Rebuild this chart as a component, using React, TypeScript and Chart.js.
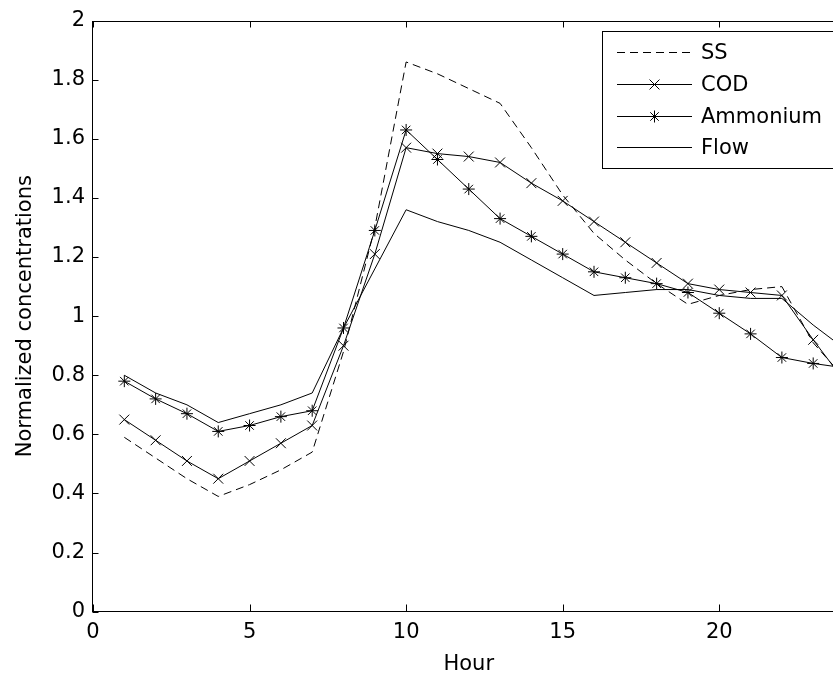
import React, { useEffect, useRef } from 'react';
import { Chart, registerables } from 'chart.js';

Chart.register(...registerables);

// ---- data ----
const hours = [1, 2, 3, 4, 5, 6, 7, 8, 9, 10, 11, 12, 13, 14, 15, 16, 17, 18, 19, 20, 21, 22, 23, 24];
const ssValues = [0.59, 0.52, 0.45, 0.39, 0.43, 0.48, 0.54, 0.88, 1.30, 1.86, 1.82, 1.77, 1.72, 1.57, 1.41, 1.28, 1.19, 1.11, 1.04, 1.07, 1.09, 1.10, 0.91, 0.79];
const codValues = [0.65, 0.58, 0.51, 0.45, 0.51, 0.57, 0.63, 0.90, 1.21, 1.57, 1.55, 1.54, 1.52, 1.45, 1.39, 1.32, 1.25, 1.18, 1.11, 1.09, 1.08, 1.07, 0.92, 0.78];
const ammoniumValues = [0.78, 0.72, 0.67, 0.61, 0.63, 0.66, 0.68, 0.96, 1.29, 1.63, 1.53, 1.43, 1.33, 1.27, 1.21, 1.15, 1.13, 1.11, 1.08, 1.01, 0.94, 0.86, 0.84, 0.825];
const flowValues = [0.80, 0.74, 0.70, 0.64, 0.67, 0.70, 0.74, 0.96, 1.16, 1.36, 1.32, 1.29, 1.25, 1.19, 1.13, 1.07, 1.08, 1.09, 1.09, 1.07, 1.06, 1.06, 0.97, 0.89];
const seriesLabels = ['SS', 'COD', 'Ammonium', 'Flow'];
const xAxisTitle = 'Hour';
const yAxisTitle = 'Normalized concentrations';

const FONT_FAMILY = "'DejaVu Sans', 'Liberation Sans', Arial, sans-serif";
const FONT_SIZE = 21;

function toPoints(values: number[]) {
  return hours.map((h, i) => ({ x: h, y: values[i] }));
}

function drawMarker(ctx: CanvasRenderingContext2D, style: string, x: number, y: number, r: number) {
  ctx.beginPath();
  if (style === 'crossRot' || style === 'star') {
    const d = Math.cos(Math.PI / 4) * r;
    ctx.moveTo(x - d, y - d);
    ctx.lineTo(x + d, y + d);
    ctx.moveTo(x - d, y + d);
    ctx.lineTo(x + d, y - d);
  }
  if (style === 'star') {
    ctx.moveTo(x - r, y);
    ctx.lineTo(x + r, y);
    ctx.moveTo(x, y - r);
    ctx.lineTo(x, y + r);
  }
  ctx.stroke();
}

const matlabAxes = {
  id: 'matlabAxes',
  afterDatasetsDraw(chart: any) {
    const { ctx, chartArea: a, scales } = chart;
    ctx.save();
    ctx.strokeStyle = '#000';
    ctx.lineWidth = 1;
    ctx.setLineDash([]);
    const L = Math.round(a.left) - 0.5;
    const R = Math.round(a.right) + 0.5;
    const T = Math.round(a.top) + 0.5;
    const B = Math.round(a.bottom) - 0.5;
    ctx.strokeRect(L, T, R - L, B - T);
    ctx.beginPath();
    scales.x.ticks.forEach((t: any) => {
      const px = Math.round(scales.x.getPixelForValue(t.value)) + 0.5;
      ctx.moveTo(px, B);
      ctx.lineTo(px, B - 7);
      ctx.moveTo(px, T);
      ctx.lineTo(px, T + 6);
    });
    scales.y.ticks.forEach((t: any) => {
      const py = Math.round(scales.y.getPixelForValue(t.value)) + 0.5;
      ctx.moveTo(L, py);
      ctx.lineTo(L + 6, py);
      ctx.moveTo(R, py);
      ctx.lineTo(R - 6, py);
    });
    ctx.stroke();

    // legend box (MATLAB style, inside the axes, north-east)
    const boxL = 602.5, boxT = 31.5, boxB = 168.5, boxR = a.right - 4.5;
    ctx.fillStyle = '#fff';
    ctx.fillRect(boxL, boxT, boxR - boxL, boxB - boxT);
    ctx.strokeRect(boxL, boxT, boxR - boxL, boxB - boxT);
    const rowStart = 51.7, rowGap = 31.9;
    const lineX0 = 617, lineX1 = 692, textX = 701;
    ctx.font = `${FONT_SIZE}px ${FONT_FAMILY}`;
    ctx.textBaseline = 'middle';
    ctx.textAlign = 'left';
    chart.data.datasets.forEach((ds: any, i: number) => {
      const y = Math.round(rowStart + i * rowGap) + 0.5;
      ctx.strokeStyle = ds.borderColor;
      ctx.lineWidth = ds.borderWidth;
      ctx.setLineDash(ds.borderDash || []);
      ctx.beginPath();
      ctx.moveTo(lineX0, y);
      ctx.lineTo(lineX1, y);
      ctx.stroke();
      ctx.setLineDash([]);
      if (ds.pointRadius > 0) {
        ctx.lineWidth = ds.pointBorderWidth;
        ctx.strokeStyle = ds.pointBorderColor;
        drawMarker(ctx, ds.pointStyle, (lineX0 + lineX1) / 2, y, ds.pointRadius);
      }
      ctx.fillStyle = '#000';
      ctx.fillText(ds.label, textX, y + 1.5);
    });
    ctx.restore();
  },
};

export default function App() {
  const canvasRef = useRef<HTMLCanvasElement | null>(null);

  useEffect(() => {
    const canvas = canvasRef.current;
    if (!canvas) return;
    const common = {
      borderColor: '#000',
      borderWidth: 1,
      tension: 0,
      fill: false,
      pointBorderColor: '#000',
      pointBackgroundColor: 'transparent',
      pointBorderWidth: 1,
    };
    const chart = new Chart(canvas, {
      type: 'line',
      data: {
        datasets: [
          { ...common, label: seriesLabels[0], data: toPoints(ssValues), borderDash: [8, 5], pointRadius: 0, pointStyle: 'circle' },
          { ...common, label: seriesLabels[1], data: toPoints(codValues), pointRadius: 7, pointStyle: 'crossRot' },
          { ...common, label: seriesLabels[2], data: toPoints(ammoniumValues), pointRadius: 6, pointStyle: 'star' },
          { ...common, label: seriesLabels[3], data: toPoints(flowValues), pointRadius: 0, pointStyle: 'circle' },
        ] as any,
      },
      options: {
        animation: false,
        responsive: false,
        maintainAspectRatio: false,
        devicePixelRatio: 1,
        events: [],
        layout: { padding: { left: 0, top: 19, right: 15.5, bottom: 0 } },
        plugins: {
          legend: { display: false },
          tooltip: { enabled: false },
        },
        scales: {
          x: {
            type: 'linear',
            min: 0,
            max: 24,
            grid: { display: false, drawTicks: false },
            border: { display: false },
            ticks: {
              stepSize: 5,
              includeBounds: false,
              padding: 8,
              color: '#000',
              maxRotation: 0,
              font: { family: FONT_FAMILY, size: FONT_SIZE },
            },
            title: {
              display: true,
              text: xAxisTitle,
              color: '#000',
              font: { family: FONT_FAMILY, size: FONT_SIZE },
              padding: { top: 0, bottom: 0 },
            },
            afterFit: (s: any) => { s.height = 65.3; },
          },
          y: {
            type: 'linear',
            min: 0,
            max: 2,
            grid: { display: false, drawTicks: false },
            border: { display: false },
            ticks: {
              stepSize: 0.2,
              padding: 8,
              color: '#000',
              font: { family: FONT_FAMILY, size: FONT_SIZE },
              callback: (v: any) => String(Math.round(Number(v) * 10) / 10),
            },
            title: {
              display: true,
              text: yAxisTitle,
              color: '#000',
              font: { family: FONT_FAMILY, size: FONT_SIZE },
              padding: { top: 13, bottom: 0 },
            },
            afterFit: (s: any) => { s.width = 93; },
          },
        },
      } as any,
      plugins: [matlabAxes],
    });
    return () => chart.destroy();
  }, []);

  return (
    <div style={{ position: 'fixed', left: 0, top: 0, width: 833, height: 677, overflow: 'hidden', background: '#fff' }}>
      <canvas ref={canvasRef} width={860} height={677} style={{ display: 'block', width: 860, height: 677 }} />
    </div>
  );
}
